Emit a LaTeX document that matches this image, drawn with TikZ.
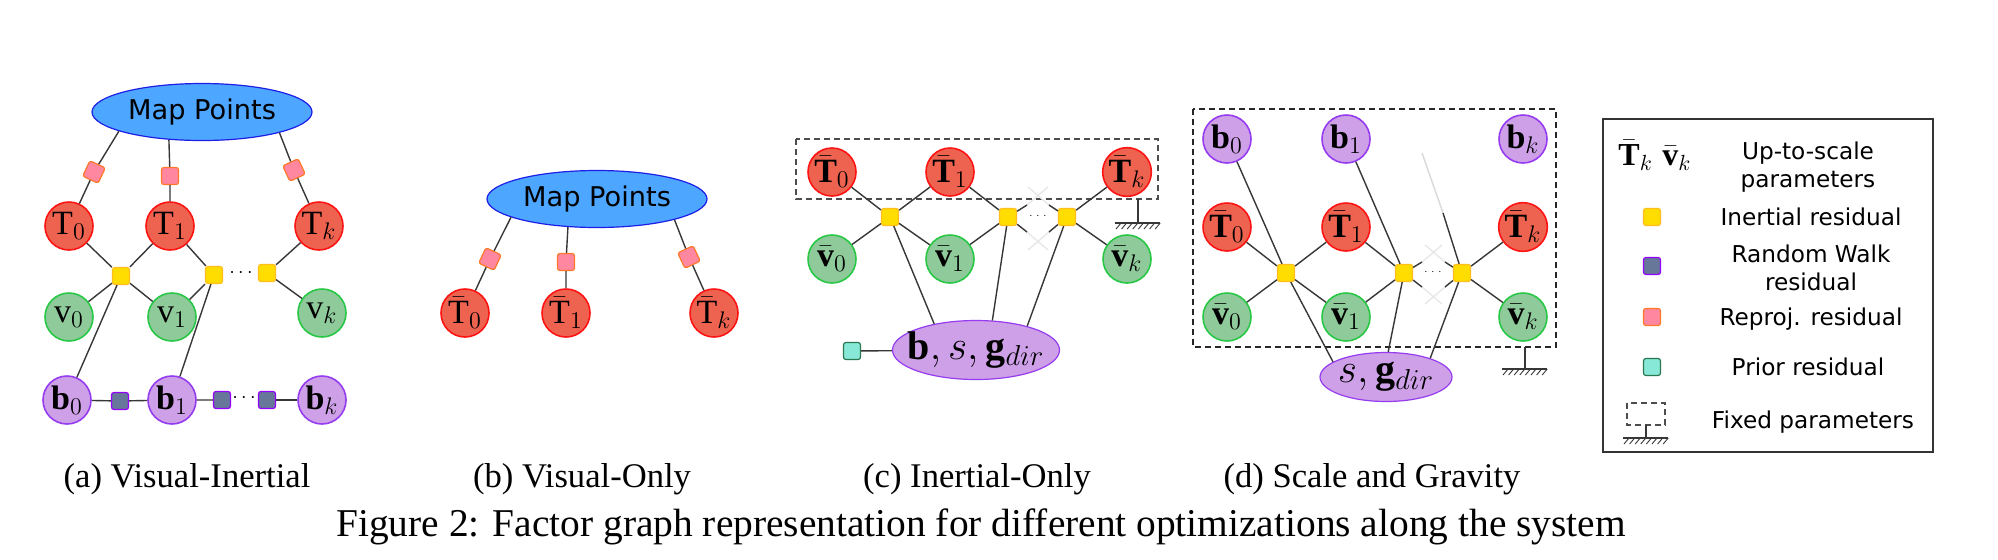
\documentclass[tikz,border=0pt]{standalone}
\usepackage{fontspec}
\setmainfont{Liberation Serif}
\newfontfamily\dejavu{DejaVu Sans}
\usetikzlibrary{shapes.geometric}
\definecolor{mapfill}{RGB}{77,166,255}
\definecolor{mapdraw}{RGB}{30,30,230}
\definecolor{redfill}{RGB}{238,98,80}
\definecolor{reddraw}{RGB}{255,20,20}
\definecolor{greenfill}{RGB}{143,202,155}
\definecolor{greendraw}{RGB}{40,200,70}
\definecolor{purpfill}{RGB}{206,160,232}
\definecolor{purpdraw}{RGB}{150,60,240}
\definecolor{yelfill}{RGB}{255,221,0}
\definecolor{yeldraw}{RGB}{255,190,30}
\definecolor{rwfill}{RGB}{102,119,153}
\definecolor{rwdraw}{RGB}{150,0,255}
\definecolor{repfill}{RGB}{255,135,160}
\definecolor{repdraw}{RGB}{255,120,40}
\definecolor{prifill}{RGB}{136,232,216}
\definecolor{pridraw}{RGB}{40,120,80}
\definecolor{edgecol}{RGB}{55,55,55}
\tikzset{
  var/.style={circle, minimum size=24pt, inner sep=0pt, line width=0.8pt, font=\fontsize{17}{20}\selectfont},
  tnode/.style={var, fill=redfill, draw=reddraw},
  vnode/.style={var, fill=greenfill, draw=greendraw},
  bnode/.style={var, fill=purpfill, draw=purpdraw},
  fac/.style={rectangle, rounded corners=1.2pt, minimum size=8.5pt, inner sep=0pt, line width=0.6pt},
  inert/.style={fac, fill=yelfill, draw=yeldraw},
  rw/.style={fac, fill=rwfill, draw=rwdraw},
  rep/.style={fac, fill=repfill, draw=repdraw},
  prior/.style={fac, fill=prifill, draw=pridraw},
  mappts/.style={ellipse, fill=mapfill, draw=mapdraw, line width=0.6pt, minimum width=110pt, minimum height=28.5pt, inner sep=0pt, font=\dejavu\fontsize{13.6}{16}\selectfont},
  bigell/.style={ellipse, fill=purpfill, draw=purpdraw, line width=0.6pt, inner sep=0pt, font=\fontsize{20}{24}\selectfont},
  conn/.style={draw=edgecol, line width=0.7pt},
  faint/.style={draw=black!9, line width=0.7pt},
  fixbox/.style={draw=black!70, line width=0.7pt, dash pattern=on 3pt off 2pt},
  subcap/.style={font=\fontsize{17.3}{20}\selectfont, anchor=base, inner sep=0pt},
  legtxt/.style={font=\dejavu\fontsize{11.6}{13.8}\selectfont, align=center, inner sep=0pt},
  bigdots/.style={font=\fontsize{10}{12}\selectfont, inner sep=0pt},
  smalldots/.style={font=\fontsize{5}{6}\selectfont, inner sep=0pt}
}
\newcommand{\drawground}[3]{%
  \draw[conn] (#1,#2) -- (#1,#3);
  \draw[conn] (#1-23,#3) -- (#1+22,#3);
  \foreach \hh in {0,...,7}{\draw[conn,line width=0.45pt] ({#1-22+\hh*5.6},{#3+6}) -- ({#1-17+\hh*5.6},#3);}
}
\begin{document}
\begin{tikzpicture}[x=0.5pt,y=-0.5pt]
\fill[white] (0,0) rectangle (1998,559);
\useasboundingbox (0,0) rectangle (1998,559);

%% (a) Visual-Inertial
\node[mappts] (amap) at (202,112) {Map Points};
\node[tnode] (aT0) at (69,226) {$\mathrm{T}_0$};
\node[tnode] (aT1) at (170,226) {$\mathrm{T}_1$};
\node[tnode] (aTk) at (319,226) {$\mathrm{T}_k$};
\node[rep, rotate=-25] (ar0) at (94,172) {};
\node[rep] (ar1) at (170,176) {};
\node[rep, rotate=25] (ark) at (294,170) {};
\node[inert] (ai1) at (121,276) {};
\node[inert] (ai2) at (214,275) {};
\node[inert] (aik) at (267,273) {};
\node[bigdots] (adots) at (241,273) {$\cdots$};
\node[vnode] (av0) at (69,317) {$\mathrm{v}_0$};
\node[vnode] (av1) at (172,317) {$\mathrm{v}_1$};
\node[vnode] (avk) at (322,313) {$\mathrm{v}_k$};
\node[bnode] (ab0) at (67,400) {$\mathbf{b}_0$};
\node[bnode] (ab1) at (172,400) {$\mathbf{b}_1$};
\node[bnode] (abk) at (322,400) {$\mathbf{b}_k$};
\node[rw] (aw1) at (120,401) {};
\node[rw] (aw2) at (222,400) {};
\node[rw] (awk) at (267,400) {};
\node[bigdots] (awdots) at (244,398) {$\cdots$};
\draw[conn] (aT0) -- (ar0) -- (amap.193);
\draw[conn] (aT1) -- (ar1) -- (amap.220);
\draw[conn] (aTk) -- (ark) -- (amap.345);
\draw[conn] (ai1) -- (aT0);
\draw[conn] (ai1) -- (aT1);
\draw[conn] (ai1) -- (av0);
\draw[conn] (ai1) -- (av1);
\draw[conn] (ai1) -- (ab0);
\draw[conn] (ai2) -- (aT1);
\draw[conn] (ai2) -- (av1);
\draw[conn] (ai2) -- (ab1);
\draw[conn] (aik) -- (aTk);
\draw[conn] (aik) -- (avk);
\draw[conn] (ab0) -- (aw1) -- (ab1) -- (aw2);
\draw[conn] (awk) -- (abk);

%% (b) Visual-Only
\node[mappts] (bmap) at (597,199) {Map Points};
\node[tnode] (bT0) at (465,313) {$\bar{\mathrm{T}}_0$};
\node[tnode] (bT1) at (566,313) {$\bar{\mathrm{T}}_1$};
\node[tnode] (bTk) at (714,313) {$\bar{\mathrm{T}}_k$};
\node[rep, rotate=-25] (br0) at (490,259) {};
\node[rep] (br1) at (566,262) {};
\node[rep, rotate=25] (brk) at (689,257) {};
\draw[conn] (bT0) -- (br0) -- (bmap.192);
\draw[conn] (bT1) -- (br1) -- (bmap.224);
\draw[conn] (bTk) -- (brk) -- (bmap.345);

%% (c) Inertial-Only
\draw[fixbox] (796,139) rectangle (1158,199);
\drawground{1138}{199}{223}
\node[tnode] (cT0) at (832,172) {$\bar{\mathbf{T}}_0$};
\node[tnode] (cT1) at (950,172) {$\bar{\mathbf{T}}_1$};
\node[tnode] (cTk) at (1127,172) {$\bar{\mathbf{T}}_k$};
\node[vnode] (cv0) at (832,259) {$\bar{\mathbf{v}}_0$};
\node[vnode] (cv1) at (950,259) {$\bar{\mathbf{v}}_1$};
\node[vnode] (cvk) at (1127,259) {$\bar{\mathbf{v}}_k$};
\node[inert] (ci1) at (890,217) {};
\node[inert] (ci2) at (1008,217) {};
\node[inert] (cik) at (1067,217) {};
\node[smalldots] (cdots) at (1038,216) {$\cdots$};
\node[bigell, minimum width=83.5pt, minimum height=29.5pt] (cell) at (976,350) {\makebox[0pt]{$\mathbf{b}, s, \mathbf{g}_{dir}$}};
\node[prior] (cpri) at (852,351) {};
\coordinate (cs1) at (1027,205);
\coordinate (cs2) at (1027,232);
\coordinate (cs3) at (1049,205);
\coordinate (cs4) at (1049,232);
\coordinate (cf1) at (1048,187);
\coordinate (cf2) at (1048,250);
\coordinate (cf3) at (1028,187);
\coordinate (cf4) at (1028,250);
\draw[faint] (cs1) -- (cf1);
\draw[faint] (cs2) -- (cf2);
\draw[faint] (cs3) -- (cf3);
\draw[faint] (cs4) -- (cf4);
\draw[conn] (ci1) -- (cT0);
\draw[conn] (ci1) -- (cT1);
\draw[conn] (ci1) -- (cv0);
\draw[conn] (ci1) -- (cv1);
\draw[conn] (ci1) -- (cell.148);
\draw[conn] (ci2) -- (cT1);
\draw[conn] (ci2) -- (cv1);
\draw[conn] (ci2) -- (cell.61);
\draw[conn] (ci2) -- (cs1);
\draw[conn] (ci2) -- (cs2);
\draw[conn] (cik) -- (cTk);
\draw[conn] (cik) -- (cvk);
\draw[conn] (cik) -- (cell.25);
\draw[conn] (cik) -- (cs3);
\draw[conn] (cik) -- (cs4);
\draw[conn] (cpri) -- (cell);

%% (d) Scale and Gravity
\draw[fixbox, draw=black!85] (1193,109) rectangle (1556,347);
\drawground{1525}{347}{369}
\node[bnode] (db0) at (1227,139) {$\mathbf{b}_0$};
\node[bnode] (db1) at (1346,139) {$\mathbf{b}_1$};
\node[bnode] (dbk) at (1523,139) {$\mathbf{b}_k$};
\node[tnode] (dT0) at (1227,227) {$\bar{\mathbf{T}}_0$};
\node[tnode] (dT1) at (1346,227) {$\bar{\mathbf{T}}_1$};
\node[tnode] (dTk) at (1523,227) {$\bar{\mathbf{T}}_k$};
\node[vnode] (dv0) at (1227,317) {$\bar{\mathbf{v}}_0$};
\node[vnode] (dv1) at (1346,317) {$\bar{\mathbf{v}}_1$};
\node[vnode] (dvk) at (1523,317) {$\bar{\mathbf{v}}_k$};
\node[inert] (di1) at (1286,273) {};
\node[inert] (di2) at (1404,273) {};
\node[inert] (dik) at (1462,273) {};
\node[smalldots] (ddots) at (1433,272) {$\cdots$};
\node[bigell, minimum width=66pt, minimum height=24.5pt] (dell) at (1386,377) {\makebox[0pt]{$s, \mathbf{g}_{dir}$}};
\coordinate (ds1) at (1422,262);
\coordinate (ds2) at (1422,287);
\coordinate (ds3) at (1445,262);
\coordinate (ds4) at (1445,287);
\coordinate (df1) at (1442,245);
\coordinate (df2) at (1442,304);
\coordinate (df3) at (1425,245);
\coordinate (df4) at (1425,304);
\coordinate (dtop) at (1422,153);
\coordinate (dmid) at (1443,213);
\draw[faint] (ds1) -- (df1);
\draw[faint] (ds2) -- (df2);
\draw[faint] (ds3) -- (df3);
\draw[faint] (ds4) -- (df4);
\draw[faint, draw=black!15] (dtop) -- (dmid);
\draw[conn] (di1) -- (db0);
\draw[conn] (di1) -- (dT0);
\draw[conn] (di1) -- (dT1);
\draw[conn] (di1) -- (dv0);
\draw[conn] (di1) -- (dv1);
\draw[conn] (di1) -- (dell.164);
\draw[conn] (di2) -- (db1);
\draw[conn] (di2) -- (dT1);
\draw[conn] (di2) -- (dv1);
\draw[conn] (di2) -- (dell.85);
\draw[conn] (di2) -- (ds1);
\draw[conn] (di2) -- (ds2);
\draw[conn] (dik) -- (dTk);
\draw[conn] (dik) -- (dvk);
\draw[conn] (dik) -- (dell.23);
\draw[conn] (dik) -- (ds3);
\draw[conn] (dik) -- (ds4);
\draw[conn] (dik) -- (dmid);

%% Legend
\draw[draw=black!80, line width=0.8pt] (1603,119) rectangle (1933,452);
\node[font=\fontsize{16}{19}\selectfont, inner sep=0pt] (lgsym) at (1655,155) {$\bar{\mathbf{T}}_k\;\bar{\mathbf{v}}_k$};
\node[legtxt] (lgt1) at (1808,167) {Up-to-scale\\parameters};
\node[inert] (lgi) at (1652,217) {};
\node[legtxt] (lgt2) at (1811,217) {Inertial residual};
\node[rw] (lgw) at (1652,266) {};
\node[legtxt] (lgt3) at (1811,268) {Random Walk\\residual};
\node[rep] (lgr) at (1652,317) {};
\node[legtxt] (lgt4) at (1811,319) {Reproj. residual};
\node[prior] (lgp) at (1652,367) {};
\node[legtxt] (lgt5) at (1808,367) {Prior residual};
\draw[fixbox] (1627,403) rectangle (1665,425);
\drawground{1646}{425}{438}
\node[legtxt] (lgt6) at (1813,422) {Fixed parameters};

%% Captions
\node[subcap] (capa) at (187,487) {(a) Visual-Inertial};
\node[subcap] (capb) at (582,487) {(b) Visual-Only};
\node[subcap] (capc) at (977,487) {(c) Inertial-Only};
\node[subcap] (capd) at (1372,487) {(d) Scale and Gravity};
\node[font=\fontsize{19.7}{23}\selectfont, anchor=base, inner sep=0pt] (figcap) at (981,536) {Figure 2: Factor graph representation for different optimizations along the system};
\end{tikzpicture}
\end{document}
